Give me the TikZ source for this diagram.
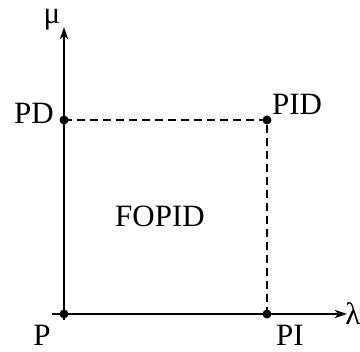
\documentclass[tikz,border=0pt]{standalone}
\usepackage{fontspec}
\setmainfont{Liberation Serif}
\usetikzlibrary{arrows.meta,backgrounds}
\begin{document}
\begin{tikzpicture}[x=1pt,y=1pt,
  axisline/.style={line width=2.2pt,-{Stealth[length=12pt,width=8pt,inset=3pt]}},
  dashline/.style={line width=2.2pt,dash pattern=on 8pt off 5pt},
  dotnode/.style={circle,fill=black,inner sep=0pt,minimum size=9pt},
  lbl/.style={font=\fontsize{31}{32}\selectfont,inner sep=0pt}]
\useasboundingbox (0,0) rectangle (360,352);
\coordinate (xs) at (52,38);
\coordinate (xe) at (347,38);
\coordinate (ys) at (64,32);
\coordinate (ye) at (64,325);
\node[dotnode] (P) at (64,38) {};
\node[dotnode] (PD) at (64,232) {};
\node[dotnode] (PID) at (267,232) {};
\node[dotnode] (PI) at (267,38) {};
\begin{scope}[on background layer]
\draw[axisline] (xs) -- (xe);
\draw[axisline] (ys) -- (ye);
\draw[dashline] (PD.center) -- (PID.center) -- (PI.center);
\end{scope}
\node[lbl] (mu) at (52,332) {μ};
\node[lbl] (lam) at (353,38) {λ};
\node[lbl] (tPD) at (34,239) {PD};
\node[lbl] (tPID) at (297,248) {PID};
\node[lbl] (tF) at (160,136) {FOPID};
\node[lbl] (tP) at (42,17) {P};
\node[lbl] (tPI) at (290,17) {PI};
\end{tikzpicture}
\end{document}
